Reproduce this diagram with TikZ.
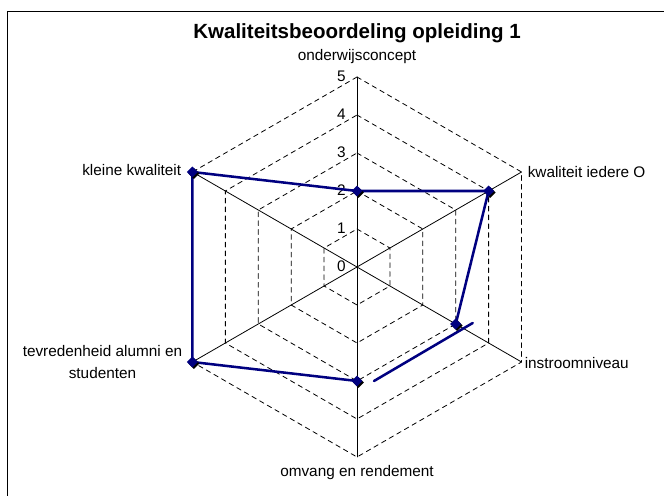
\documentclass[tikz,border=0pt]{standalone}
\usepackage{fontspec}
\setmainfont{Liberation Sans}
\usepackage{xcolor}
\usetikzlibrary{calc,shapes.geometric,shadows}
\definecolor{reeks}{RGB}{0,0,128}

\begin{document}
\begin{tikzpicture}[line cap=round,line join=round,x=0.75pt,y=0.75pt,
    labeltekst/.style={font=\fontsize{11.5}{15.8}\selectfont,inner sep=0pt},
    schaal/.style={font=\fontsize{11.5}{13}\selectfont,inner sep=0pt,anchor=east},
    raster/.style={line width=0.6pt,dash pattern=on 3.6pt off 3pt},
    as/.style={line width=0.6pt},
    reekslijn/.style={draw=reeks,line width=1.9pt},
    punt/.style={diamond,fill=reeks,inner sep=0pt,minimum width=8.4pt,minimum height=8.4pt,
        drop shadow={shadow xshift=1.1pt,shadow yshift=-1.1pt,fill=black,opacity=1}}]
    \useasboundingbox (-357,-229) rectangle (307,267);
    % kader
    \draw[line width=0.6pt] (-350,-229) -- (-350,256) -- (307,256);
    \coordinate (o) at (0,0);
    % raster
    \foreach \r in {1,...,5}
        \draw[raster] (90:38*\r) -- (30:38*\r) -- (-30:38*\r) -- (-90:38*\r) -- (-150:38*\r) -- (150:38*\r) -- cycle;
    % assen
    \foreach \a/\n in {90/a1,30/a2,-30/a3,-90/a4,-150/a5,150/a6}{
        \coordinate (\n) at (\a:190);
        \draw[as] (o) -- (\n);
    }
    % schaal
    \foreach \k in {0,...,5}
        \node[schaal] (s\k) at (-11,38*\k+1) {\k};
    % meetpunten
    \foreach \a/\v/\n in {90/2/p1,30/4/p2,-30/3/p3,-90/3/p4,-150/5/p5,150/5/p6}
        \coordinate (\n) at (\a:38*\v);
    \draw[reekslijn] (p3) -- (p2) -- (p1) -- (p6) -- (p5) -- (p4);
    \draw[reekslijn] ($(p3)+(17,1)$) -- ($(p4)+(17,0)$);
    \foreach \n in {p1,p2,p3,p4,p5,p6}
        \node[punt] (m\n) at (\n) {};
    % teksten
    \node[font=\bfseries\fontsize{15.4}{18}\selectfont,inner sep=0pt] (titel) at (0,234) {Kwaliteitsbeoordeling opleiding 1};
    \node[labeltekst] (l1) at ($(a1)+(0,20)$) {onderwijsconcept};
    \node[labeltekst,anchor=west] (l2) at ($(a2)+(6,0)$) {kwaliteit iedere O};
    \node[labeltekst,anchor=west] (l3) at ($(a3)+(3,-1)$) {instroomniveau};
    \node[labeltekst] (l4) at ($(a4)+(0,-16)$) {omvang en rendement};
    \node[labeltekst,anchor=east] (l6) at ($(a6)+(-11,2)$) {kleine kwaliteit};
    \node[labeltekst,anchor=east,align=center] (l5) at ($(a5)+(-10,0)$) {tevredenheid alumni en\\studenten};
\end{tikzpicture}
\end{document}
